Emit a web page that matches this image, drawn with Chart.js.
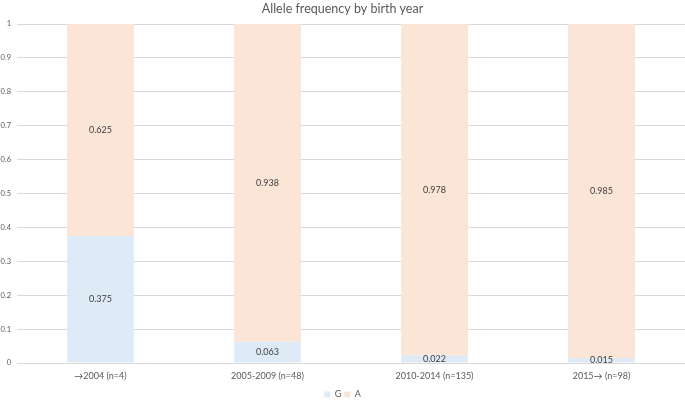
<!DOCTYPE html>
<html>
<head>
<meta charset="utf-8">
<script src="https://cdn.jsdelivr.net/npm/chart.js@4"></script>
<style>
html,body{margin:0;padding:0;background:#fff;}
#wrap{width:685px;height:400px;position:relative;}
</style>
</head>
<body>
<div id="wrap"><canvas id="c" width="685" height="400"></canvas></div>
<script>
const categories = ['\u21922004 (n=4)', '2005-2009 (n=48)', '2010-2014 (n=135)', '2015\u2192 (n=98)'];
const seriesG = [0.375, 0.063, 0.022, 0.015];
const seriesA = [0.625, 0.938, 0.978, 0.985];
const labelsG = ['0.375', '0.063', '0.022', '0.015'];
const labelsA = ['0.625', '0.938', '0.978', '0.985'];

const textColor = '#595959';
const FONT = 'Lato, "Open Sans", sans-serif';

const dataLabels = {
  id: 'dataLabels',
  afterDatasetsDraw(chart) {
    const ctx = chart.ctx;
    ctx.save();
    ctx.font = '9px ' + FONT;
    ctx.fillStyle = '#404040';
    ctx.textAlign = 'center';
    ctx.textBaseline = 'middle';
    chart.data.datasets.forEach((ds, di) => {
      const meta = chart.getDatasetMeta(di);
      meta.data.forEach((el, i) => {
        const y = (el.y + el.base) / 2;
        ctx.fillText(ds.labelTexts[i], el.x, y);
      });
    });
    ctx.restore();
  }
};

new Chart(document.getElementById('c'), {
  type: 'bar',
  data: {
    labels: categories,
    datasets: [
      { label: 'G', data: seriesG, labelTexts: labelsG, backgroundColor: '#deebf7', borderWidth: 0 },
      { label: 'A', data: seriesA, labelTexts: labelsA, backgroundColor: '#fbe5d6', borderWidth: 0 }
    ]
  },
  options: {
    responsive: false,
    animation: false,
    devicePixelRatio: 1,
    layout: { padding: { left: 0, right: 0, top: 0, bottom: -9 } },
    datasets: { bar: { categoryPercentage: 1.0, barPercentage: 0.4 } },
    scales: {
      x: {
        stacked: true,
        afterFit(scale) { scale.height = 24; },
        grid: { display: false, drawTicks: false },
        border: { display: false },
        ticks: { color: textColor, font: { family: FONT, size: 9 }, padding: 8, maxRotation: 0 },
      },
      y: {
        stacked: true,
        min: 0, max: 1,
        afterFit(scale) { scale.width = 17; },
        grid: { color: '#d9d9d9', drawTicks: false, lineWidth: 1 },
        border: { display: false },
        ticks: {
          stepSize: 0.1,
          color: textColor,
          padding: 6,
          font: { family: FONT, size: 7.5 },
          callback(v) {
            const r = Math.round(v * 10) / 10;
            return (r === 0 || r === 1) ? String(r) : r.toFixed(1);
          }
        }
      }
    },
    plugins: {
      title: {
        display: true,
        text: 'Allele frequency by birth year',
        color: textColor,
        font: { family: FONT, size: 12.5, weight: 'normal' },
        padding: { top: 1, bottom: 8 }
      },
      legend: {
        display: true,
        position: 'bottom',
        labels: {
          color: textColor,
          font: { family: FONT, size: 9 },
          boxWidth: 6, boxHeight: 6,
          padding: 3
        }
      },
      tooltip: { enabled: false }
    }
  },
  plugins: [dataLabels]
});
</script>
</body>
</html>
